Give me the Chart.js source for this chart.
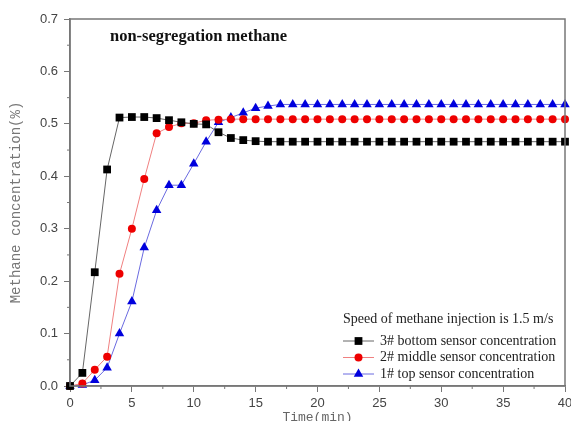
<!DOCTYPE html>
<html>
<head>
<meta charset="utf-8">
<script src="https://cdn.jsdelivr.net/npm/chart.js@4/dist/chart.umd.min.js"></script>
<style>
  html, body { margin: 0; padding: 0; background: #fff; }
  #wrap { width: 571px; height: 421px; }
</style>
</head>
<body>
<div id="wrap"><canvas id="myChart" width="571" height="421"></canvas></div>
<script>
// time in minutes
var times = [0, 1, 2, 3, 4, 5, 6, 7, 8, 9, 10, 11, 12, 13, 14, 15, 16, 17, 18, 19, 20,
  21, 22, 23, 24, 25, 26, 27, 28, 29, 30, 31, 32, 33, 34, 35, 36, 37, 38, 39, 40];

var bottom3 = [0, 0.025, 0.217, 0.413, 0.512, 0.513, 0.513, 0.511, 0.507, 0.503, 0.5,
  0.499, 0.484, 0.473, 0.469, 0.467, 0.466, 0.466, 0.466, 0.466, 0.466,
  0.466, 0.466, 0.466, 0.466, 0.466, 0.466, 0.466, 0.466, 0.466, 0.466,
  0.466, 0.466, 0.466, 0.466, 0.466, 0.466, 0.466, 0.466, 0.466, 0.466];

var middle2 = [0, 0.005, 0.031, 0.056, 0.214, 0.300, 0.395, 0.482, 0.494, 0.501, 0.501,
  0.507, 0.508, 0.509, 0.509, 0.509, 0.509, 0.509, 0.509, 0.509, 0.509,
  0.509, 0.509, 0.509, 0.509, 0.509, 0.509, 0.509, 0.509, 0.509, 0.509,
  0.509, 0.509, 0.509, 0.509, 0.509, 0.509, 0.509, 0.509, 0.509, 0.509];

var top1 = [0, 0.002, 0.011, 0.035, 0.100, 0.161, 0.264, 0.335, 0.383, 0.383, 0.424,
  0.466, 0.503, 0.512, 0.521, 0.530, 0.534, 0.537, 0.537, 0.537, 0.537,
  0.537, 0.537, 0.537, 0.537, 0.537, 0.537, 0.537, 0.537, 0.537, 0.537,
  0.537, 0.537, 0.537, 0.537, 0.537, 0.537, 0.537, 0.537, 0.537, 0.537];

var seriesNames = ['3# bottom sensor concentration', '2# middle sensor concentration', '1# top sensor concentration'];
var chartTitle = 'non-segregation methane';
var legendTitle = 'Speed of methane injection is 1.5 m/s';

function pts(ys) {
  var out = [];
  for (var i = 0; i < times.length; i++) out.push({x: times[i], y: ys[i]});
  return out;
}

function marker(ctx, style, x, y, r, color) {
  ctx.fillStyle = color;
  ctx.beginPath();
  if (style === 'rect') {
    var s = r / Math.SQRT2;
    ctx.rect(x - s, y - s, 2 * s, 2 * s);
  } else if (style === 'circle') {
    ctx.arc(x, y, r, 0, Math.PI * 2);
  } else {
    ctx.moveTo(x, y - r);
    ctx.lineTo(x + r * Math.sin(Math.PI / 3), y + r / 2);
    ctx.lineTo(x - r * Math.sin(Math.PI / 3), y + r / 2);
    ctx.closePath();
  }
  ctx.fill();
}

var extras = {
  id: 'extras',
  afterDraw: function(chart) {
    var ctx = chart.ctx, a = chart.chartArea;
    var xs = chart.scales.x, ys = chart.scales.y;
    ctx.save();
    // frame
    ctx.strokeStyle = '#777';
    ctx.lineWidth = 1.5;
    ctx.strokeRect(a.left, a.top, a.right - a.left, a.bottom - a.top);
    // minor ticks
    ctx.lineWidth = 1;
    ctx.beginPath();
    for (var v = 2.5; v < 40; v += 5) {
      var px = xs.getPixelForValue(v);
      ctx.moveTo(px, a.bottom); ctx.lineTo(px, a.bottom + 3);
    }
    for (var w = 0.05; w < 0.7; w += 0.1) {
      var py = ys.getPixelForValue(w);
      ctx.moveTo(a.left, py); ctx.lineTo(a.left - 3, py);
    }
    ctx.stroke();
    // title inside plot
    ctx.fillStyle = '#111';
    ctx.font = 'bold 16.5px "Liberation Serif"';
    ctx.textBaseline = 'middle';
    ctx.textAlign = 'left';
    ctx.fillText(chartTitle, 110, 37);
    // legend
    ctx.font = '14px "Liberation Serif"';
    ctx.fillStyle = '#222';
    ctx.fillText(legendTitle, 343, 319);
    chart.data.datasets.forEach(function(ds, i) {
      var y = 341 + i * 16.5;
      ctx.strokeStyle = ds.borderColor;
      ctx.lineWidth = 1;
      ctx.beginPath(); ctx.moveTo(343, y); ctx.lineTo(374, y); ctx.stroke();
      marker(ctx, ds.pointStyle, 358.5, y, ds.pointRadius, ds.pointBackgroundColor);
      ctx.fillStyle = '#222';
      ctx.fillText(ds.label, 380, y);
    });
    ctx.restore();
  }
};

function drawChart() {
  var data = {
    datasets: [{
      label: seriesNames[0],
      data: pts(bottom3),
      borderColor: '#666',
      pointBackgroundColor: '#000',
      pointBorderColor: '#000',
      pointStyle: 'rect',
      pointRadius: 5.5
    }, {
      label: seriesNames[1],
      data: pts(middle2),
      borderColor: '#f08080',
      pointBackgroundColor: '#ee0000',
      pointBorderColor: '#ee0000',
      pointStyle: 'circle',
      pointRadius: 4
    }, {
      label: seriesNames[2],
      data: pts(top1),
      borderColor: '#6a6ae0',
      pointBackgroundColor: '#0000dd',
      pointBorderColor: '#0000dd',
      pointStyle: 'triangle',
      pointRadius: 5.5
    }]
  };

  var config = {
    type: 'line',
    data: data,
    plugins: [extras],
    options: {
      responsive: false,
      animation: false,
      clip: false,
      layout: { padding: { top: 19, right: 6, left: 0, bottom: 0 } },
      elements: { line: { borderWidth: 1, tension: 0 }, point: { borderWidth: 0 } },
      plugins: { legend: { display: false }, tooltip: { enabled: false } },
      scales: {
        x: {
          type: 'linear', min: 0, max: 40,
          afterFit: function(s) { s.height = 35; s.paddingLeft = 0; s.paddingRight = 0; },
          ticks: { stepSize: 5, color: '#444', padding: 4, font: { family: '"Liberation Sans"', size: 13 } },
          grid: { drawOnChartArea: false, tickLength: 6, color: '#777', tickColor: '#777' },
          border: { color: '#777', width: 1.5 },
          title: { display: true, text: 'Time(min)', color: '#666', padding: { top: 0, bottom: -4 },
            font: { family: '"Liberation Mono"', size: 13 } }
        },
        y: {
          min: 0, max: 0.7,
          afterFit: function(s) { s.width = 70; s.paddingTop = 0; s.paddingBottom = 0; },
          ticks: { stepSize: 0.1, color: '#444', padding: 6, font: { family: '"Liberation Sans"', size: 13 },
            callback: function(v) { return v.toFixed(1); } },
          grid: { drawOnChartArea: false, tickLength: 6, color: '#777', tickColor: '#777' },
          border: { color: '#777', width: 1.5 },
          title: { display: true, text: 'Methane concentration(%)', color: '#777', padding: { top: 8, bottom: 0 },
            font: { family: '"Liberation Mono"', size: 14 } }
        }
      }
    }
  };

  new Chart(document.getElementById('myChart'), config);
}
drawChart();
</script>
</body>
</html>
